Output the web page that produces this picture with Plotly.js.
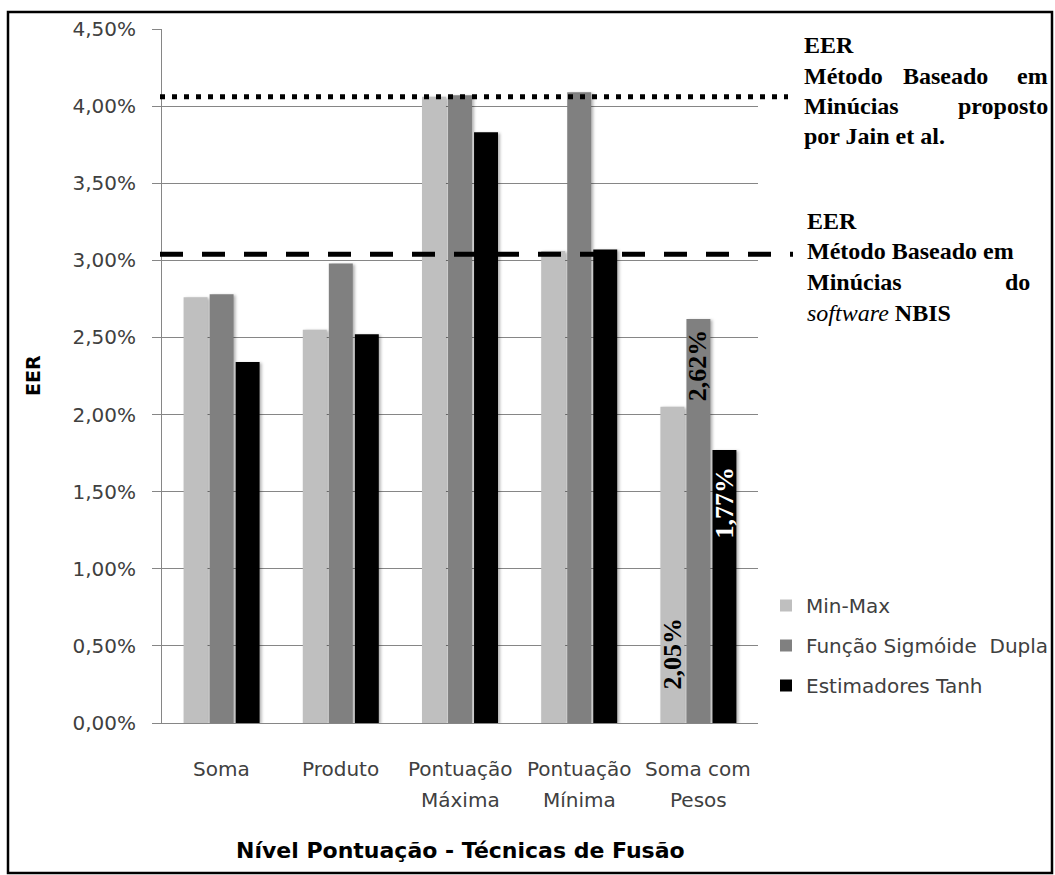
<!DOCTYPE html>
<html>
<head>
<meta charset="utf-8">
<script src="https://cdn.plot.ly/plotly-3.0.1.min.js"></script>
<style>
  html, body { margin: 0; padding: 0; background: #ffffff; }
  #chart { width: 1055px; height: 875px; }
  /* soft shadow behind each bar */
  #chart .barlayer .point path { filter: drop-shadow(2px 1px 1.5px rgba(0, 0, 0, 0.3)); }
</style>
</head>
<body>
<div id="chart"></div>
<script>
// Fusion techniques at score level
const categories = ['Soma', 'Produto', 'Pontuação Máxima', 'Pontuação Mínima', 'Soma com Pesos'];
const categoryLines = [['Soma'], ['Produto'], ['Pontuação', 'Máxima'], ['Pontuação', 'Mínima'], ['Soma com', 'Pesos']];

// EER (%) per normalisation method
const seriesNames = ['Min-Max', 'Função Sigmóide  Dupla', 'Estimadores Tanh'];
const minMax = [2.76, 2.55, 4.06, 3.06, 2.05];
const sigmoideDupla = [2.78, 2.98, 4.07, 4.09, 2.62];
const estimadoresTanh = [2.34, 2.52, 3.83, 3.07, 1.77];

// Reference EER of the minutiae-based methods
const eerJain = 4.06;
const eerNbis = 3.04;

// Value labels written on bars of the last group
const labelIndex = 4;

const yTickVals = [0, 0.5, 1, 1.5, 2, 2.5, 3, 3.5, 4, 4.5];
const yTickText = ['0,00%', '0,50%', '1,00%', '1,50%', '2,00%', '2,50%', '3,00%', '3,50%', '4,00%', '4,50%'];

const fmt = v => v.toFixed(2).replace('.', ',') + '%';

// figure geometry (pixels)
const W = 1055, H = 875;
const M = { l: 162, r: 297, t: 29, b: 152, autoexpand: false };
const PW = W - M.l - M.r, PH = H - M.t - M.b;
const px = x => (x - M.l) / PW;          // page x -> paper x
const py = y => (H - M.b - y) / PH;      // page y -> paper y

const colors = ['#bfbfbf', '#808080', '#000000'];
const allSeries = [minMax, sigmoideDupla, estimadoresTanh];

const traces = allSeries.map((vals, i) => ({
  type: 'bar',
  name: seriesNames[i],
  x: categories,
  y: vals,
  marker: { color: colors[i], line: { width: 0 } },
  legendgroup: 'g' + i,
  hoverinfo: 'skip'
}));

const sans = 'DejaVu Sans, Verdana, sans-serif';
const tickFont = { family: sans, size: 20, color: '#404040' };
const serifBold = { family: 'Liberation Serif, Times New Roman, serif', size: 24, color: '#000000' };
const labelFont = { family: 'Liberation Serif, Times New Roman, serif', size: 26, color: '#000000' };

const annotations = [];

// category labels (two lines, wide line spacing)
categoryLines.forEach((lines, i) => {
  lines.forEach((t, k) => {
    annotations.push({
      xref: 'x', yref: 'paper', x: categories[i], y: py(769 + k * 31),
      text: t, showarrow: false, xanchor: 'center', yanchor: 'middle',
      font: tickFont
    });
  });
});

// axis titles
annotations.push({
  xref: 'paper', yref: 'paper', x: 0.5, y: py(851),
  text: '<b>Nível Pontuação - Técnicas de Fusão</b>', showarrow: false,
  xanchor: 'center', yanchor: 'middle',
  font: { family: sans, size: 22, color: '#000000' }
});
annotations.push({
  xref: 'paper', yref: 'paper', x: px(33), y: 0.5,
  text: '<b>EER</b>', textangle: -90, showarrow: false,
  xanchor: 'center', yanchor: 'middle',
  font: { family: sans, size: 19, color: '#000000' }
});

// rotated value labels inside the bars
const barShift = [-26, 0, 26];
annotations.push({
  xref: 'x', yref: 'y', x: categories[labelIndex], y: 0, xshift: barShift[0], yshift: 32,
  text: '<b>' + fmt(minMax[labelIndex]) + '</b>', textangle: -90, showarrow: false,
  xanchor: 'center', yanchor: 'bottom', font: labelFont
});
annotations.push({
  xref: 'x', yref: 'y', x: categories[labelIndex], y: sigmoideDupla[labelIndex], xshift: barShift[1], yshift: -8,
  text: '<b>' + fmt(sigmoideDupla[labelIndex]) + '</b>', textangle: -90, showarrow: false,
  xanchor: 'center', yanchor: 'top', font: labelFont
});
annotations.push({
  xref: 'x', yref: 'y', x: categories[labelIndex], y: estimadoresTanh[labelIndex], xshift: barShift[2], yshift: -14,
  text: '<b>' + fmt(estimadoresTanh[labelIndex]) + '</b>', textangle: -90, showarrow: false,
  xanchor: 'center', yanchor: 'top', font: Object.assign({}, labelFont, { color: '#ffffff' })
});

// justified text blocks beside the reference lines
function word(text, xPage, yPage, anchor) {
  annotations.push({
    xref: 'paper', yref: 'paper', x: px(xPage), y: py(yPage),
    text: text, showarrow: false, xanchor: anchor, yanchor: 'middle', font: serifBold
  });
}
const L1 = 802, R1 = 1050;
word('<b>EER</b>', L1, 45, 'left');
word('<b>Método</b>', L1, 76, 'left');
word('<b>Baseado</b>', 945, 76, 'center');
word('<b>em</b>', R1, 76, 'right');
word('<b>Minúcias</b>', L1, 106, 'left');
word('<b>proposto</b>', R1, 106, 'right');
word('<b>por Jain et al.</b>', L1, 136, 'left');

const L2 = 805, R2 = 1032;
word('<b>EER</b>', L2, 221, 'left');
word('<b>Método Baseado em</b>', L2, 251, 'left');
word('<b>Minúcias</b>', L2, 282, 'left');
word('<b>do</b>', R2, 282, 'right');
word('<i>software</i><b> NBIS</b>', L2, 313, 'left');

const shapes = [
  // outer frame
  { type: 'rect', xref: 'paper', yref: 'paper', x0: px(8), x1: px(1052), y0: py(873), y1: py(12),
    line: { color: '#000000', width: 2.5 }, layer: 'below' },
  // EER of the Jain et al. method
  { type: 'line', xref: 'paper', yref: 'y', x0: px(160), x1: px(788), y0: eerJain, y1: eerJain,
    line: { color: '#000000', width: 5, dash: '5px,7px' } },
  // EER of the NBIS minutiae method
  { type: 'line', xref: 'paper', yref: 'y', x0: px(160), x1: px(793), y0: eerNbis, y1: eerNbis,
    line: { color: '#000000', width: 5, dash: '23px,19px' } }
];

const layout = {
  width: W, height: H,
  margin: M,
  paper_bgcolor: '#ffffff', plot_bgcolor: '#ffffff',
  barmode: 'group', bargap: 0.345, bargroupgap: 0.08,
  showlegend: true,
  legend: {
    x: px(766), y: py(586), xanchor: 'left', yanchor: 'top',
    font: { family: sans, size: 20, color: '#404040' },
    traceorder: 'grouped', tracegroupgap: 11, itemwidth: 30,
    bgcolor: 'rgba(0,0,0,0)'
  },
  xaxis: {
    type: 'category', showticklabels: false, ticks: '',
    showline: true, linecolor: '#868686', linewidth: 1,
    showgrid: false, zeroline: false
  },
  yaxis: {
    range: [0, 4.5], tickvals: yTickVals, ticktext: yTickText,
    ticks: 'outside', ticklen: 9, tickcolor: '#868686', ticklabelstandoff: 12,
    showline: true, linecolor: '#868686', linewidth: 1,
    showgrid: true, gridcolor: '#868686', gridwidth: 1, zeroline: false,
    tickfont: tickFont
  },
  annotations: annotations,
  shapes: shapes,
  font: { family: sans }
};

Plotly.newPlot('chart', traces, layout, { displayModeBar: false, staticPlot: true });
</script>
</body>
</html>
